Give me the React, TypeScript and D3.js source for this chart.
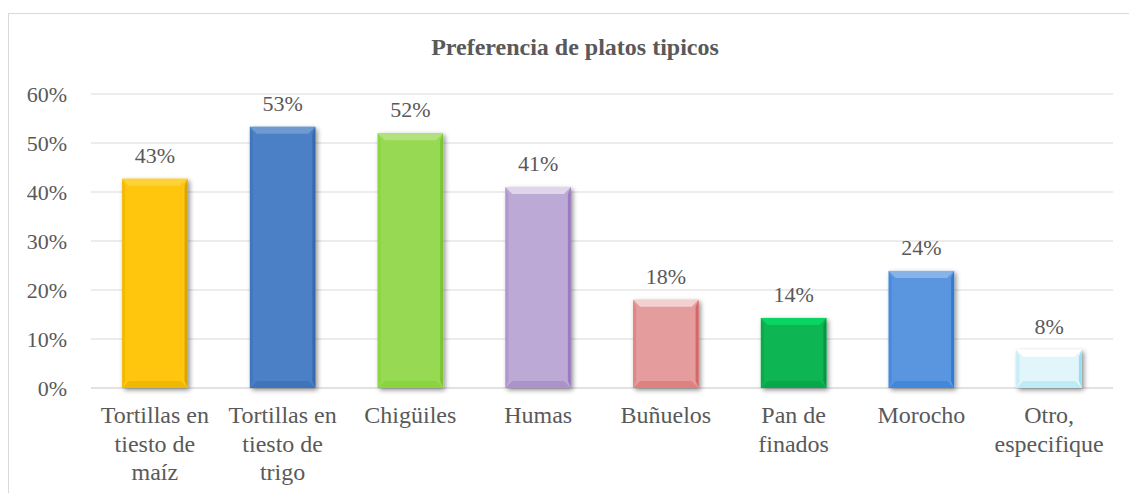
import { useMemo } from 'react'
import * as d3 from 'd3'

const categories = [
  ['Tortillas en', 'tiesto de', 'maíz'],
  ['Tortillas en', 'tiesto de', 'trigo'],
  ['Chigüiles'],
  ['Humas'],
  ['Buñuelos'],
  ['Pan de', 'finados'],
  ['Morocho'],
  ['Otro,', 'especifique'],
]
const values = [0.427, 0.533, 0.52, 0.41, 0.18, 0.143, 0.239, 0.078]
const labels = ['43%', '53%', '52%', '41%', '18%', '14%', '24%', '8%']
const colors = ['#FFC60A', '#4B80C6', '#97D952', '#BDA9D5', '#E59C9C', '#07B652', '#5A96DF', '#E1F6FB']
const ticks = [0, 0.1, 0.2, 0.3, 0.4, 0.5, 0.6]

const W = 1129
const H = 493
const PLOT = { left: 91, right: 1113, top: 94, bottom: 388 }
const TEXT = '#595959'
const GRID = '#D9D9D9'
const FONT = '"Liberation Serif", "Times New Roman", serif'

export default function App() {
  const x = useMemo(
    () => d3.scaleBand().domain(d3.range(categories.length).map(String)).range([PLOT.left, PLOT.right]).padding(0),
    []
  )
  const y = useMemo(() => d3.scaleLinear().domain([0, 0.6]).range([PLOT.bottom, PLOT.top]), [])
  const barW = x.step() * 0.513
  const bev = 7

  return (
    <svg width={W} height={H} style={{ position: 'absolute', left: 0, top: 0, background: '#fff' }}>
      <defs>
        <filter id="shadow" x="-20%" y="-20%" width="150%" height="150%">
          <feGaussianBlur in="SourceAlpha" stdDeviation="2.5" />
          <feOffset dx="2" dy="2" result="b" />
          <feComponentTransfer><feFuncA type="linear" slope="0.45" /></feComponentTransfer>
          <feMerge><feMergeNode /><feMergeNode in="SourceGraphic" /></feMerge>
        </filter>
      </defs>
      <rect x={8.5} y={13.5} width={1140} height={520} fill="#fff" stroke={GRID} />

      <text x={575} y={55} textAnchor="middle" fontFamily={FONT} fontWeight="bold" fontSize={24} fill={TEXT}>
        Preferencia de platos tipicos
      </text>

      {ticks.map(t => (
        <g key={t}>
          <line x1={PLOT.left} x2={PLOT.right} y1={y(t)} y2={y(t)} stroke={GRID} strokeWidth={t === 0 ? 1.6 : 1.2} />
          <text x={67} y={y(t)} dy="0.35em" textAnchor="end" fontFamily={FONT} fontSize={22} fill={TEXT}>
            {d3.format('.0%')(t)}
          </text>
        </g>
      ))}

      {values.map((v, i) => {
        const cx = x(String(i))! + x.bandwidth() / 2
        const x0 = cx - barW / 2
        const x1 = cx + barW / 2
        const y0 = y(v)
        const y1 = y(0)
        const base = d3.color(colors[i])!
        const light = d3.hsl(colors[i]).brighter(0.45).toString()
        const dark = d3.hsl(colors[i]).darker(0.35).toString()
        const darker = d3.hsl(colors[i]).darker(0.7).toString()
        return (
          <g key={i}>
            <g filter="url(#shadow)">
              <rect x={x0} y={y0} width={barW} height={y1 - y0} fill={base.toString()} />
            </g>
            <polygon points={`${x0},${y0} ${x1},${y0} ${x1 - bev},${y0 + bev} ${x0 + bev},${y0 + bev}`} fill={light} />
            <polygon points={`${x0},${y0} ${x0 + 3},${y0 + bev} ${x0 + 3},${y1 - bev} ${x0},${y1}`} fill={dark} opacity={0.6} />
            <polygon points={`${x1},${y0} ${x1 - 3},${y0 + bev} ${x1 - 3},${y1 - bev} ${x1},${y1}`} fill={darker} opacity={0.8} />
            <polygon points={`${x0},${y1} ${x1},${y1} ${x1 - bev},${y1 - bev} ${x0 + bev},${y1 - bev}`} fill={dark} opacity={0.75} />
            <text x={cx} y={y0 - 16} textAnchor="middle" fontFamily={FONT} fontSize={22} fill={TEXT}>
              {labels[i]}
            </text>
            <text textAnchor="middle" fontFamily={FONT} fontSize={24} fill={TEXT}>
              {categories[i].map((line, j) => (
                <tspan key={j} x={cx} y={423 + j * 28.5}>{line}</tspan>
              ))}
            </text>
          </g>
        )
      })}
    </svg>
  )
}
